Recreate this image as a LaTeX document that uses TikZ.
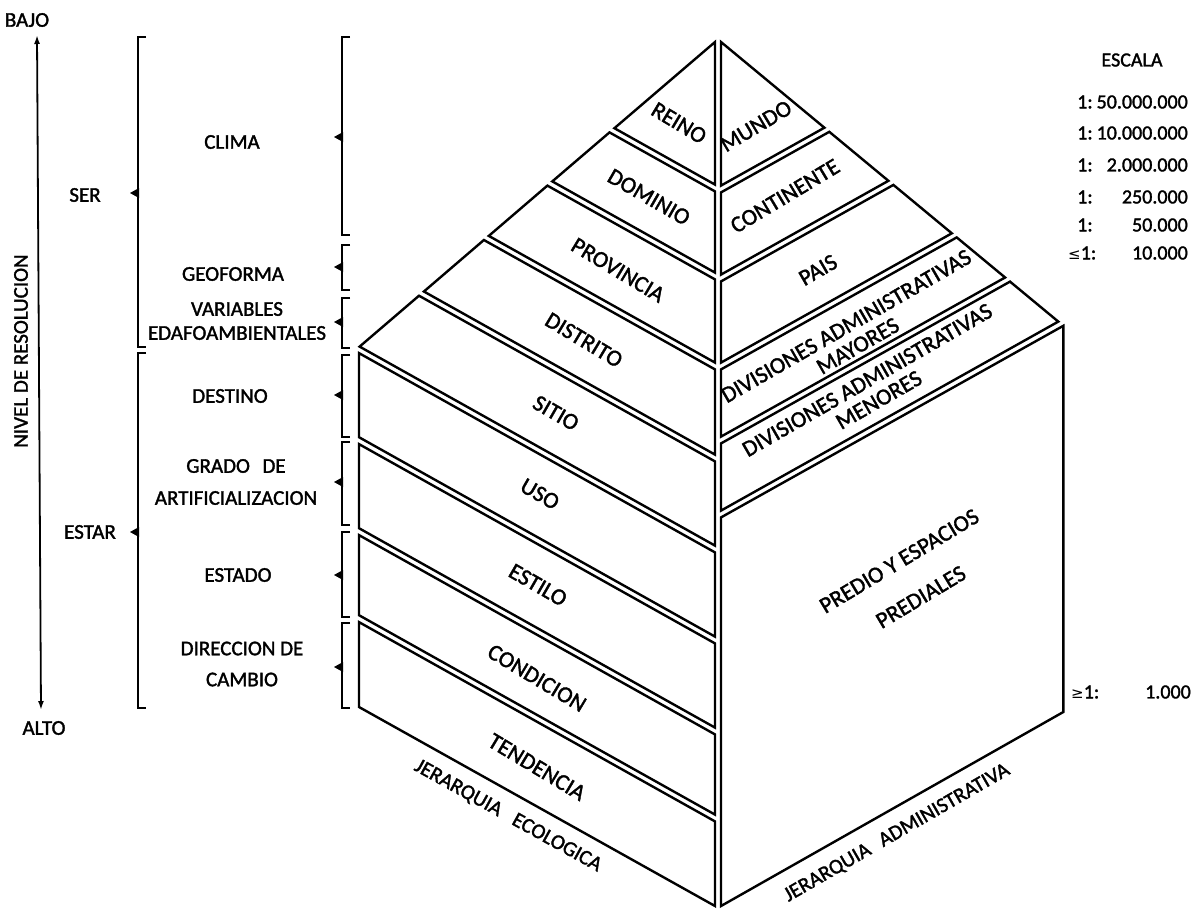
\documentclass[tikz,border=0pt]{standalone}
\usepackage{fontspec}
\setmainfont{Carlito}[FakeBold=1.6]
\newfontfamily\symf{DejaVu Sans}
\usetikzlibrary{arrows.meta}
\newcommand{\mybrk}[4]{%
  \draw[brk] (#1+8,#2) -- (#1,#2) -- (#1,#3) -- (#1+8,#3);
  \fill (#1+1,#4-5) -- (#1-8,#4) -- (#1+1,#4+5) -- cycle;}
\begin{document}
\begin{tikzpicture}[x=1pt,y=-1pt,
  piece/.style={draw=black,line width=2.4pt,line join=miter,fill=white},
  lab/.style={font=\fontsize{21}{31}\selectfont,inner sep=0pt,align=center},
  plab/.style={font=\fontsize{23}{23}\selectfont,inner sep=0pt,align=center},
  slab/.style={font=\fontsize{20}{22}\selectfont,inner sep=0pt},
  brk/.style={line width=2pt},
]
\useasboundingbox (0,0) rectangle (1204,914);

% ---------- left face pieces ----------
\draw[piece] (715,42) -- (614.4,128.2) -- (715,184.6) -- cycle;
\draw[piece] (609.5,132.4) -- (715,191.4) -- (715,272.6) -- (552.3,181.4) -- cycle;
\draw[piece] (547.4,185.6) -- (715,279.4) -- (715,362.6) -- (488.8,235.9) -- cycle;
\draw[piece] (483.9,240.0) -- (715,369.4) -- (715,454.6) -- (423.9,291.5) -- cycle;
\draw[piece] (419.0,295.7) -- (715,461.4) -- (715,545.6) -- (359.6,346.6) -- cycle;
\draw[piece] (359,353.1) -- (715,552.4) -- (715,636.6) -- (359,437.2) -- cycle;
\draw[piece] (359,444.1) -- (715,643.4) -- (715,727.6) -- (359,528.2) -- cycle;
\draw[piece] (359,535.1) -- (715,734.4) -- (715,814.6) -- (359,615.2) -- cycle;
\draw[piece] (359,622.1) -- (715,821.4) -- (715,906) -- (359,707) -- cycle;

% ---------- right face pieces ----------
\draw[piece] (721,42) -- (824.4,127.7) -- (721,185.6) -- cycle;
\draw[piece] (829.3,131.8) -- (888.4,180.8) -- (721,274.6) -- (721,192.4) -- cycle;
\draw[piece] (893.4,184.9) -- (951.8,233.3) -- (721,362.6) -- (721,281.4) -- cycle;
\draw[piece] (956.7,237.4) -- (1005.1,277.5) -- (721,436.6) -- (721,369.4) -- cycle;
\draw[piece] (1010.0,281.6) -- (1058.3,321.6) -- (721,510.6) -- (721,443.4) -- cycle;
\draw[piece] (1063.3,325.8) -- (1063.3,712) -- (721,906) -- (721,517.4) -- cycle;

% ---------- labels on the pyramid ----------
\node[plab,rotate=-31] (reino) at (679,123) {REINO};
\node[plab,rotate=31] (mundo) at (756,126) {MUNDO};
\node[plab,rotate=-30] (dominio) at (649,197) {DOMINIO};
\node[plab,rotate=31] (continente) at (785,196) {CONTINENTE};
\node[plab,rotate=-31] (provincia) at (618,270) {PROVINCIA};
\node[plab,rotate=30] (pais) at (818,270) {PAIS};
\node[plab,rotate=-31] (distrito) at (584,340) {DISTRITO};
\node[plab,rotate=30] (divmay) at (852,336) {DIVISIONES ADMINISTRATIVAS\\MAYORES};
\node[plab,rotate=-30] (sitio) at (556,413) {SITIO};
\node[plab,rotate=30] (divmen) at (873,390) {DIVISIONES ADMINISTRATIVAS\\MENORES};
\node[plab,rotate=-30] (uso) at (540,494) {USO};
\node[plab,rotate=-30] (estilo) at (538,585) {ESTILO};
\node[plab,rotate=-31] (condicion) at (537,678) {CONDICION};
\node[plab,rotate=-31] (tendencia) at (537,767) {TENDENCIA};
\node[plab,rotate=31,font=\fontsize{23}{42}\selectfont] (predio) at (910,579) {PREDIO Y ESPACIOS\\PREDIALES};
\node[lab,rotate=-29] (jeco) at (508,816) {JERARQUIA\hspace{0.7em}ECOLOGICA};
\node[lab,rotate=30] (jadm) at (897,833) {JERARQUIA\hspace{0.6em}ADMINISTRATIVA};

% ---------- left column ----------
\node[lab] (bajo) at (27,20) {BAJO};
\node[lab] (alto) at (44,728) {ALTO};
\coordinate (arrtop) at (37,35);
\coordinate (arrbot) at (41,710);
\draw[line width=1.8pt,{Latex[length=9pt,width=6pt]}-{Latex[length=9pt,width=6pt]}] (arrtop) -- (arrbot);
\node[lab,rotate=90] (nivel) at (21,351) {NIVEL DE RESOLUCION};
\node[lab] (ser) at (85,195) {SER};
\node[lab] (estar) at (90,532) {ESTAR};
\mybrk{138}{37}{347}{193}
\mybrk{138}{353}{708}{532}

\node[lab] (clima) at (232,142) {CLIMA};
\node[lab] (geoforma) at (233,274) {GEOFORMA};
\node[lab,font=\fontsize{21}{24}\selectfont] (variables) at (237,321) {VARIABLES\\EDAFOAMBIENTALES};
\node[lab] (destino) at (230,396) {DESTINO};
\node[lab,font=\fontsize{21}{32}\selectfont] (grado) at (236,482) {GRADO\hspace{0.6em}DE\\ARTIFICIALIZACION};
\node[lab] (estado) at (238,575) {ESTADO};
\node[lab] (direccion) at (242,664) {DIRECCION DE\\CAMBIO};
\mybrk{342}{37}{235}{137}
\mybrk{342}{245}{290}{267}
\mybrk{342}{298}{348}{322}
\mybrk{342}{355}{437}{395}
\mybrk{342}{442}{525}{482}
\mybrk{342}{532}{617}{575}
\mybrk{342}{623}{708}{667}

% ---------- scale column ----------
\node[slab] (escala) at (1132,60) {ESCALA};
\node[slab,anchor=west] (e1a) at (1077,102) {1:};
\node[slab,anchor=east] (e1b) at (1188,102) {50.000.000};
\node[slab,anchor=west] (e2a) at (1077,133) {1:};
\node[slab,anchor=east] (e2b) at (1188,133) {10.000.000};
\node[slab,anchor=west] (e3a) at (1077,165) {1:};
\node[slab,anchor=east] (e3b) at (1188,165) {2.000.000};
\node[slab,anchor=west] (e4a) at (1077,197) {1:};
\node[slab,anchor=east] (e4b) at (1188,197) {250.000};
\node[slab,anchor=west] (e5a) at (1077,225) {1:};
\node[slab,anchor=east] (e5b) at (1188,225) {50.000};
\node[slab,anchor=west] (e6a) at (1068,253) {{\symf\fontsize{15}{15}\selectfont ≤}1:};
\node[slab,anchor=east] (e6b) at (1188,253) {10.000};
\node[slab,anchor=west] (e7a) at (1071,692) {{\symf\fontsize{15}{15}\selectfont ≥}1:};
\node[slab,anchor=east] (e7b) at (1191,692) {1.000};
\end{tikzpicture}
\end{document}
